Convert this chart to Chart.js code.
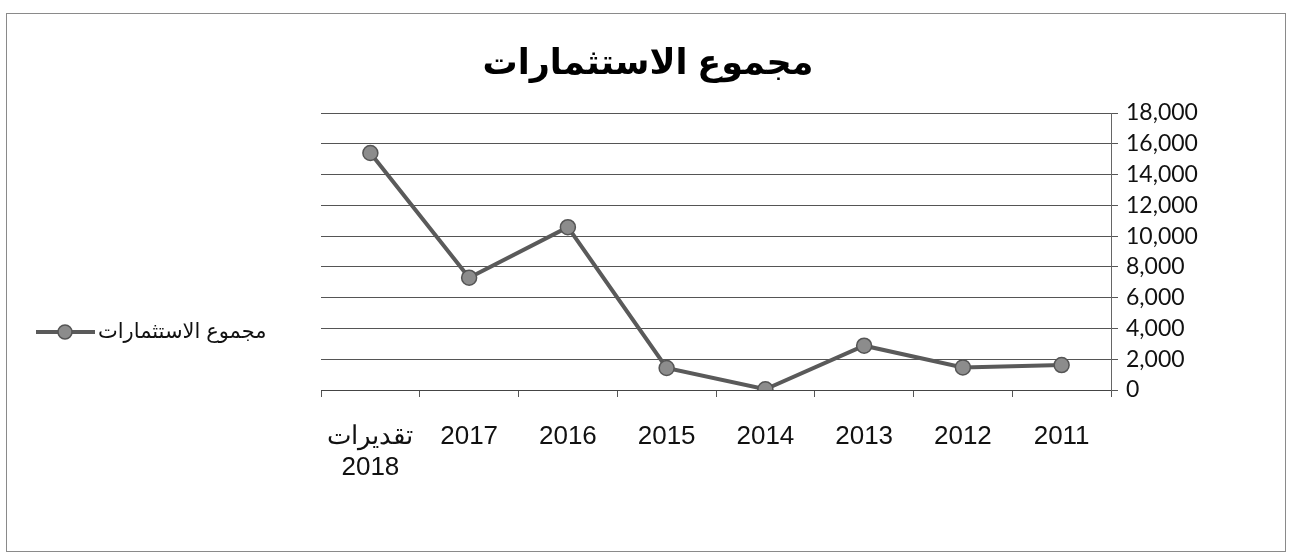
<!DOCTYPE html>
<html>
<head>
<meta charset="utf-8">
<script src="https://cdn.jsdelivr.net/npm/chart.js@4.4.0/dist/chart.umd.min.js"></script>
<style>
  html, body { margin: 0; padding: 0; background: #fff; }
  #wrap { position: relative; width: 1292px; height: 560px; }
  #frame { position: absolute; left: 6px; top: 13px; width: 1280px; height: 539px; border: 1px solid #8a8a8a; box-sizing: border-box; pointer-events: none; }
</style>
</head>
<body>
<div id="wrap">
  <canvas id="chart" width="1292" height="560"></canvas>
  <div id="frame"></div>
</div>
<script>
// data (chronological, axis is drawn reversed)
var years = ["2011", "2012", "2013", "2014", "2015", "2016", "2017", ["تقديرات", "2018"]];
var investments = [1620, 1470, 2880, 50, 1430, 10580, 7300, 15400];
var seriesName = "مجموع الاستثمارات";
var chartTitle = "مجموع الاستثمارات";

//Title centred on the whole frame + legend on the left (line + circle, then text)
var titleAndLegend = {
  id: "titleAndLegend",
  afterDraw(chart) {
    var ctx = chart.ctx;
    ctx.save();
    ctx.fillStyle = "#000";
    ctx.font = "bold 35px 'Liberation Sans', 'DejaVu Sans', sans-serif";
    ctx.textAlign = "center";
    ctx.textBaseline = "middle";
    ctx.fillText(chartTitle, 648, 64);

    var y = 332;
    ctx.strokeStyle = "#5a5a5a";
    ctx.lineWidth = 4;
    ctx.beginPath();
    ctx.moveTo(36, y);
    ctx.lineTo(95, y);
    ctx.stroke();
    ctx.beginPath();
    ctx.arc(65, y, 7, 0, Math.PI * 2);
    ctx.fillStyle = "#8c8c8c";
    ctx.fill();
    ctx.lineWidth = 1.5;
    ctx.strokeStyle = "#555";
    ctx.stroke();
    ctx.fillStyle = "#111";
    ctx.font = "21px 'Liberation Sans', 'DejaVu Sans', sans-serif";
    ctx.textAlign = "left";
    ctx.fillText(chart.data.datasets[0].label, 98, y);
    ctx.restore();
  },
};

var ctx = document.getElementById("chart").getContext("2d");
var myChart = new Chart(ctx, {
  type: "line",
  data: {
    labels: years,
    datasets: [
      {
        label: seriesName,
        data: investments,
        borderColor: "#5a5a5a",
        borderWidth: 4,
        pointRadius: 7.5,
        pointBackgroundColor: "#8c8c8c",
        pointBorderColor: "#555",
        pointBorderWidth: 1.5,
        tension: 0,
      },
    ],
  },
  options: {
    responsive: false,
    animation: false,
    layout: {
      padding: { left: 321, right: 0, top: 113, bottom: 0 },
    },
    plugins: {
      legend: { display: false },
      tooltip: { enabled: false },
      title: { display: false },
    },
    scales: {
      x: {
        reverse: true,
        offset: true,
        grid: {
          offset: true,
          drawOnChartArea: false,
          drawTicks: true,
          tickLength: 7,
          color: "#555",
        },
        border: { display: true, color: "#444" },
        ticks: {
          color: "#111",
          padding: 24,
          maxRotation: 0,
          autoSkip: false,
          font: { family: "'Liberation Sans', sans-serif", size: 26 },
        },
        afterFit(scale) {
          scale.height = 170;
        },
      },
      y: {
        position: "right",
        min: 0,
        max: 18000,
        grid: {
          color: "#555",
          tickLength: 7,
        },
        border: { display: true, color: "#666" },
        ticks: {
          stepSize: 2000,
          color: "#111",
          padding: 8,
          font: { family: "Lato, 'Open Sans', sans-serif", size: 23 },
          callback: function (v) {
            return v.toLocaleString("en-US");
          },
        },
        afterFit(scale) {
          scale.width = 181;
        },
      },
    },
  },
  plugins: [titleAndLegend],
});
</script>
</body>
</html>
